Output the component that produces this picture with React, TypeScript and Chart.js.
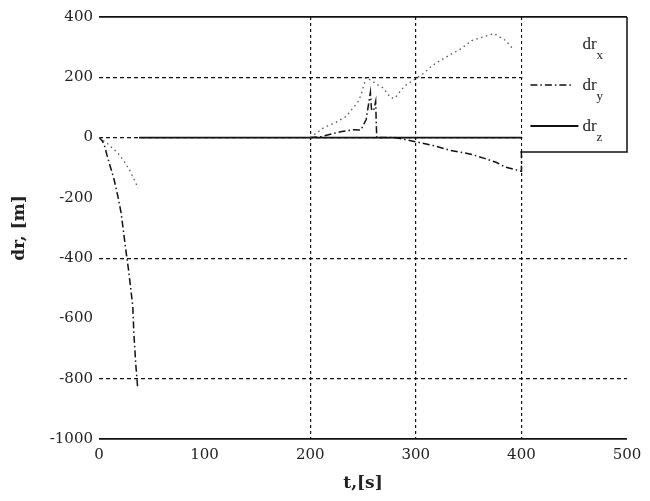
import React, { useEffect, useRef } from "react";
import { Chart, registerables } from "chart.js";

Chart.register(...registerables);

// ---- data ----
const xGridShown = [200, 300, 400];
const yGridShown = [400, 200, 0, -400, -800, -1000];
const ySolidLines = [400, -1000];

const seriesSubs = ["x", "y", "z"];

// dr_x (dotted) – null value marks a gap
const tX = [0, 8, 18, 24, 29, 35, 37, 100, 200, 213, 223, 234, 245, 248, 253, 264, 269, 276, 280, 289, 307, 316, 331, 343, 353, 363, 374, 385, 393];
const drX = [0, -20, -52, -80, -108, -152, -168, null, 0, 33, 48, 70, 117, 140, 200, 175, 165, 133, 130, 170, 212, 240, 272, 295, 322, 333, 345, 322, 290];

// dr_y (dash-dot)
const tY = [0, 3, 5, 8, 11, 14, 18, 21, 25, 28, 30, 32, 33, 35, 36.5, 100, 200, 210, 220, 230, 240, 248, 253, 257, 258, 260, 262, 262.5, 263, 280, 285, 300, 316, 332, 345, 352, 365, 376, 385, 396, 400, 400];
const drY = [0, -10, -25, -64, -100, -135, -197, -251, -362, -440, -500, -560, -650, -760, -825, null, 0, 3, 12, 20, 26, 25, 60, 150, 95, 88, 120, 55, 0, 0, -3, -14, -26, -42, -50, -55, -69, -82, -98, -108, -112, -45];

// dr_z (solid)
const tZ = [38, 100, 200, 300, 400];
const drZ = [0, 0, 0, 0, 0];

const toPts = (t: number[], v: (number | null)[]) => t.map((x, i) => ({ x, y: v[i] }));

const legendPlugin = {
  id: "boxLegend",
  afterDatasetsDraw(chart: any) {
    const { ctx, chartArea, scales } = chart;
    const xs = scales.x;
    const left = xs.getPixelForValue(400) + 1;
    const right = chartArea.right;
    const top = chartArea.top + 1;
    const bottom = chartArea.top + 135;
    ctx.save();
    ctx.fillStyle = "#fff";
    ctx.fillRect(left, top, right - left, bottom - top);
    ctx.strokeStyle = "#111";
    ctx.lineWidth = 1.5;
    ctx.setLineDash([]);
    ctx.beginPath();
    ctx.moveTo(left - 2, bottom);
    ctx.lineTo(right, bottom);
    ctx.lineTo(right, chartArea.top);
    ctx.stroke();
    chart.data.datasets.forEach((ds: any, i: number) => {
      const cy = chartArea.top + 27 + i * 41;
      if (i > 0) {
        ctx.strokeStyle = ds.borderColor;
        ctx.lineWidth = ds.borderWidth;
        ctx.setLineDash(ds.borderDash || []);
        ctx.beginPath();
        ctx.moveTo(left + 8, cy);
        ctx.lineTo(left + (i === 1 ? 50 : 56), cy);
        ctx.stroke();
      }
      ctx.setLineDash([]);
      ctx.fillStyle = "#222";
      ctx.textBaseline = "alphabetic";
      ctx.textAlign = "left";
      ctx.font = "17px 'Liberation Serif'";
      ctx.fillText("dr", left + 60, cy + 5);
      ctx.font = "13px 'Liberation Serif'";
      ctx.fillText(seriesSubs[i], left + 74, cy + 15);
    });
    ctx.restore();
  },
};

export default function App() {
  const ref = useRef<HTMLCanvasElement | null>(null);
  useEffect(() => {
    document.body.style.margin = "0";
    const canvas = ref.current;
    if (!canvas) return;
    const chart = new Chart(canvas, {
      type: "scatter",
      data: {
        datasets: [
          {
            label: "dr_x",
            data: toPts(tX, drX),
            showLine: true,
            borderColor: "#555",
            borderWidth: 1.3,
            borderDash: [1.5, 3.5],
            pointRadius: 0,
            spanGaps: false,
          },
          {
            label: "dr_y",
            data: toPts(tY, drY),
            showLine: true,
            borderColor: "#111",
            borderWidth: 1.5,
            borderDash: [7, 3, 1.5, 3],
            pointRadius: 0,
            spanGaps: false,
          },
          {
            label: "dr_z",
            data: toPts(tZ, drZ),
            showLine: true,
            borderColor: "#111",
            borderWidth: 1.8,
            pointRadius: 0,
          },
        ],
      },
      options: {
        responsive: false,
        animation: false,
        layout: { padding: { top: 17, right: 23, left: 0, bottom: 0 } },
        plugins: { legend: { display: false }, tooltip: { enabled: false } },
        scales: {
          x: {
            type: "linear",
            min: 0,
            max: 500,
            afterFit: (s: any) => {
              s.height = 62;
            },
            ticks: {
              stepSize: 100,
              color: "#222",
              padding: 7,
              maxRotation: 0,
              font: { family: "'DejaVu Serif'", size: 15 },
              callback: (v: any) => String(v),
            },
            grid: {
              drawTicks: false,
              color: (c: any) => (c.tick && xGridShown.includes(c.tick.value) ? "#111" : "rgba(0,0,0,0)"),
              lineWidth: 1.2,
            },
            border: { display: false, dash: [3, 3] },
            title: {
              display: true,
              text: "t,[s]",
              color: "#222",
              font: { family: "'DejaVu Serif'", size: 17, weight: "bold" },
              padding: { top: 0, bottom: 7 },
            },
          },
          y: {
            type: "linear",
            min: -1000,
            max: 400,
            afterFit: (s: any) => {
              s.width = 99;
            },
            ticks: {
              stepSize: 200,
              color: "#222",
              padding: 6,
              font: { family: "'DejaVu Serif'", size: 15 },
              callback: (v: any) => String(v),
            },
            grid: {
              drawTicks: false,
              color: (c: any) => (c.tick && yGridShown.includes(c.tick.value) ? "#111" : "rgba(0,0,0,0)"),
              lineWidth: (c: any) => (c.tick && ySolidLines.includes(c.tick.value) ? 1.8 : 1.2),
            },
            border: {
              display: false,
              dash: (c: any) => (c.tick && !ySolidLines.includes(c.tick.value) ? [4, 3] : []),
            },
            title: {
              display: true,
              text: "dr, [m]",
              color: "#222",
              font: { family: "'DejaVu Serif'", size: 17, weight: "bold" },
              padding: { top: 9, bottom: 0 },
            },
          },
        },
      },
      plugins: [legendPlugin],
    } as any);
    return () => chart.destroy();
  }, []);
  return <canvas ref={ref} width={650} height={501} style={{ display: "block" }} />;
}
